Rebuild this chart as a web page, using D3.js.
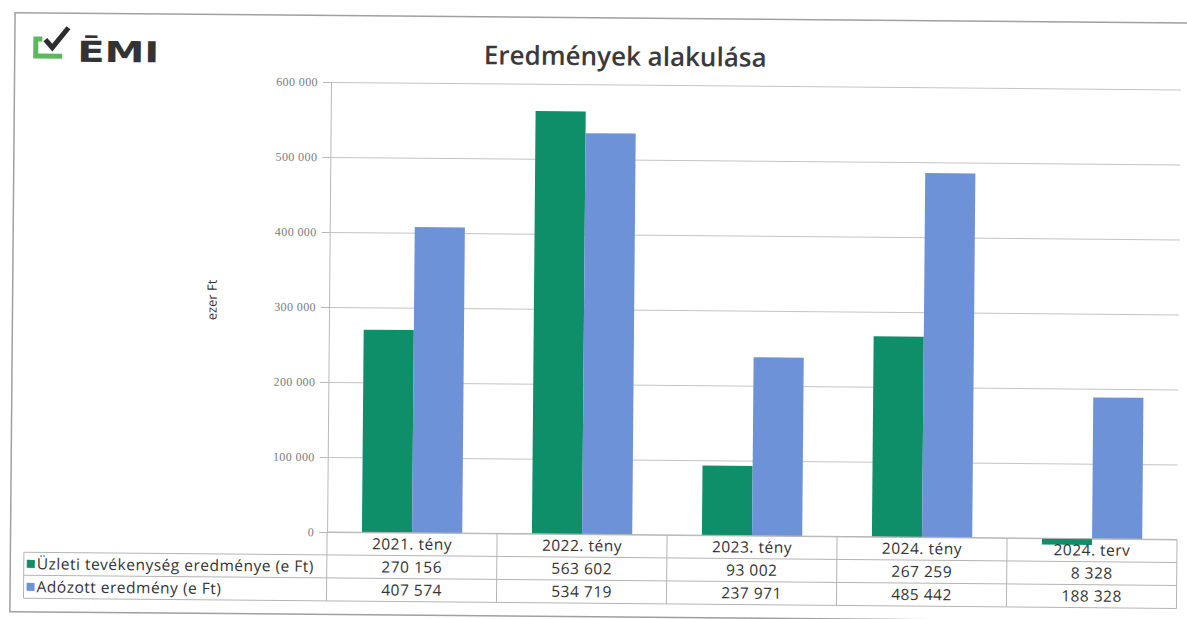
<!DOCTYPE html>
<html lang="hu">
<head>
<meta charset="utf-8">
<script src="https://cdn.jsdelivr.net/npm/d3@7"></script>
<style>
  html, body { margin: 0; padding: 0; background: #fff; }
  svg { display: block; }
</style>
</head>
<body>
<svg id="chart" width="1187" height="619"></svg>
<script>
// data
const categories = ['2021. tény', '2022. tény', '2023. tény', '2024. tény', '2024. terv'];
const seriesNames = ['Üzleti tevékenység eredménye (e Ft)', 'Adózott eredmény (e Ft)'];
const uzletiValues = [270156, 563602, 93002, 267259, -8328];
const adozottValues = [407574, 534719, 237971, 485442, 188328];
const yTickValues = [0, 100000, 200000, 300000, 400000, 500000, 600000];
const seriesColors = ['#0e8f6a', '#6e92d8'];

class BarTableChart {
    constructor (config, data) {
        this.config = {
            parent: config.parent,
            width: config.width || 1187,
            height: config.height || 619,
            plot: config.plot,
            rowH: config.rowH || 23,
            tableLeft: config.tableLeft || 28,
            tilt: config.tilt || 0
        };
        this.data = data;
        this.init();
    }

    init() {
        let self = this;
        const p = self.config.plot;

        self.svg = d3.select(self.config.parent)
            .attr('width', self.config.width)
            .attr('height', self.config.height);

        self.svg.append('rect')
            .attr('width', self.config.width)
            .attr('height', self.config.height)
            .attr('fill', '#fff');

        // the scan is slightly rotated
        self.page = self.svg.append('g')
            .attr('transform', `rotate(${self.config.tilt}, ${p.left}, ${p.top})`);

        self.xscale = d3.scaleBand()
            .domain(categories)
            .range([p.left, p.right]);

        self.groupW = self.xscale.bandwidth() * 0.59;
        self.subscale = d3.scaleBand()
            .domain(seriesNames)
            .range([(self.xscale.bandwidth() - self.groupW) / 2, (self.xscale.bandwidth() + self.groupW) / 2]);

        self.yscale = d3.scaleLinear()
            .domain([0, 600000])
            .range([p.bottom, p.top]);

        self.color = d3.scaleOrdinal()
            .domain(seriesNames)
            .range(seriesColors);

        self.fmt = d3.formatLocale({decimal: ',', thousands: ' ', grouping: [3], currency: ['', '']}).format(',');
    }

    render() {
        let self = this;
        const p = self.config.plot;
        const rowH = self.config.rowH;
        const tl = self.config.tableLeft;

        // frame
        self.page.append('rect')
            .attr('x', 14.5).attr('y', 15.5)
            .attr('width', 1200).attr('height', 599)
            .attr('fill', 'none')
            .attr('stroke', '#a0a0a0')
            .attr('stroke-width', 1.5);

        // logo
        const logo = self.page.append('g');
        logo.append('path')
            .attr('d', 'M33,39 H42 V44 H38 V56 H62 V61 H33 Z')
            .attr('fill', '#5cb85c');
        logo.append('path')
            .attr('d', 'M45,42 L52,50 L68,30')
            .attr('fill', 'none')
            .attr('stroke', '#2d2d2d')
            .attr('stroke-width', 5);
        logo.append('text')
            .attr('x', 77).attr('y', 64)
            .attr('textLength', 82)
            .attr('lengthAdjust', 'spacingAndGlyphs')
            .style('font-family', 'DejaVu Sans')
            .style('font-weight', 'bold')
            .style('font-size', '29px')
            .attr('fill', '#333')
            .text('ĒMI');

        // title
        self.page.append('text')
            .attr('x', 625).attr('y', 63)
            .attr('text-anchor', 'middle')
            .style('font-family', 'Open Sans')
            .style('font-weight', 600)
            .style('font-size', '26px')
            .attr('fill', '#3a3a3a')
            .text('Eredmények alakulása');

        // gridlines
        const grid = self.page.append('g')
            .attr('transform', `translate(${p.left}, 0)`)
            .call(d3.axisLeft(self.yscale).tickValues(yTickValues).tickSize(-(p.right - p.left)).tickFormat(''));
        grid.select('.domain').remove();
        grid.selectAll('line').attr('stroke', '#c4c4c4');

        // y axis
        const yaxis = self.page.append('g')
            .attr('transform', `translate(${p.left}, 0)`)
            .call(d3.axisLeft(self.yscale).tickValues(yTickValues).tickSize(8).tickPadding(5).tickFormat(self.fmt));
        yaxis.select('.domain').attr('stroke', '#b8b8b8');
        yaxis.selectAll('line').attr('stroke', '#b8b8b8');
        yaxis.selectAll('text')
            .style('font-family', 'Liberation Serif')
            .style('font-size', '12px')
            .style('letter-spacing', '0.4px')
            .attr('fill', '#7a7a7a');

        self.page.append('text')
            .attr('transform', 'translate(214, 301) rotate(-90)')
            .attr('text-anchor', 'middle')
            .attr('dy', '0.35em')
            .style('font-family', 'Open Sans')
            .style('font-size', '13px')
            .attr('fill', '#333')
            .text('ezer Ft');

        // bars
        const series = [uzletiValues, adozottValues];
        const y0 = self.yscale(0);
        self.page.append('g')
            .selectAll('g')
            .data(seriesNames)
            .join('g')
            .attr('fill', d => self.color(d))
            .selectAll('rect')
            .data((d, i) => categories.map((c, j) => ({cat: c, key: d, value: series[i][j]})))
            .join('rect')
            .attr('x', d => self.xscale(d.cat) + self.subscale(d.key))
            .attr('y', d => Math.min(self.yscale(d.value), y0))
            .attr('width', self.subscale.bandwidth())
            .attr('height', d => Math.abs(self.yscale(d.value) - y0));

        // data table
        const table = self.page.append('g');
        const lineColor = '#b4b4b4';
        [0, 1, 2, 3].forEach(r => {
            table.append('line')
                .attr('x1', r === 0 ? p.left : tl).attr('x2', p.right)
                .attr('y1', p.bottom + r * rowH).attr('y2', p.bottom + r * rowH)
                .attr('stroke', lineColor);
        });
        table.append('line')
            .attr('x1', tl).attr('x2', tl)
            .attr('y1', p.bottom + rowH).attr('y2', p.bottom + 3 * rowH)
            .attr('stroke', lineColor);
        categories.forEach(c => {
            table.append('line')
                .attr('x1', self.xscale(c)).attr('x2', self.xscale(c))
                .attr('y1', p.bottom).attr('y2', p.bottom + 3 * rowH)
                .attr('stroke', lineColor);
        });
        table.append('line')
            .attr('x1', p.right).attr('x2', p.right)
            .attr('y1', p.bottom).attr('y2', p.bottom + 3 * rowH)
            .attr('stroke', lineColor);

        const cellText = (sel) => sel
            .attr('dy', '0.35em')
            .style('font-family', 'Open Sans')
            .style('font-size', '15.5px')
            .style('letter-spacing', '0.5px')
            .attr('fill', '#333');

        table.selectAll('.head')
            .data(categories)
            .join('text')
            .attr('class', 'head')
            .attr('x', d => self.xscale(d) + self.xscale.bandwidth() / 2)
            .attr('y', p.bottom + rowH / 2)
            .attr('text-anchor', 'middle')
            .call(cellText)
            .text(d => d);

        seriesNames.forEach((name, i) => {
            const cy = p.bottom + rowH * (i + 1) + rowH / 2;
            table.append('rect')
                .attr('x', tl + 3).attr('y', cy - 4)
                .attr('width', 8).attr('height', 8)
                .attr('fill', self.color(name));
            table.append('text')
                .attr('x', tl + 13).attr('y', cy)
                .call(cellText)
                .text(name);
            table.selectAll('.v' + i)
                .data(series[i])
                .join('text')
                .attr('class', 'v' + i)
                .attr('x', (d, j) => self.xscale(categories[j]) + self.xscale.bandwidth() / 2)
                .attr('y', cy)
                .attr('text-anchor', 'middle')
                .call(cellText)
                .text(d => self.fmt(Math.abs(d)));
        });
    }
}

const chart = new BarTableChart({
    parent: '#chart',
    width: 1187,
    height: 619,
    plot: {left: 331, right: 1181, top: 82, bottom: 532},
    rowH: 23,
    tableLeft: 28,
    tilt: 0.5
}, {categories, uzletiValues, adozottValues});
chart.render();
</script>
</body>
</html>
